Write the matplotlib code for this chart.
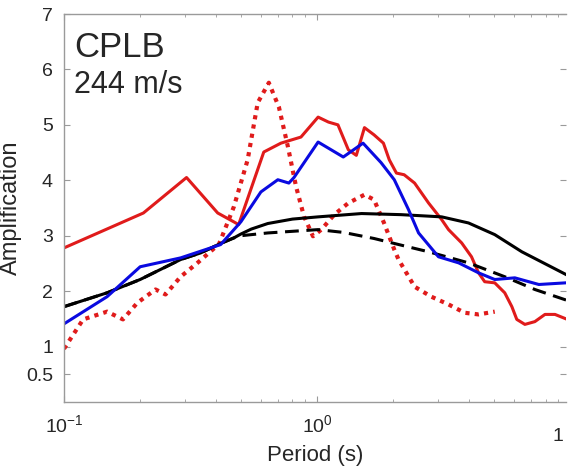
import numpy as np
import matplotlib.pyplot as plt
from matplotlib.ticker import LogLocator, NullFormatter, FixedLocator, FuncFormatter

plt.rcParams['font.family'] = ['Liberation Sans', 'DejaVu Sans']
plt.rcParams['mathtext.default'] = 'regular'

station = 'CPLB'
vs30_label = '244 m/s'

# red solid
per_red = [0.1, 0.206, 0.305, 0.405, 0.469, 0.49, 0.616, 0.72, 0.864, 1.01, 1.11, 1.21,
           1.33, 1.43, 1.54, 1.68, 1.83, 1.93, 2.06, 2.21, 2.43, 2.76, 3.11, 3.31, 3.73,
           4.08, 4.35, 4.6, 5.04, 5.52, 5.89, 6.16, 6.63, 7.26, 7.96, 8.72, 9.64]
amp_red = [2.78, 3.41, 4.05, 3.41, 3.25, 3.2, 4.51, 4.67, 4.78, 5.14, 5.05, 5.0,
           4.55, 4.45, 4.95, 4.82, 4.67, 4.37, 4.13, 4.10, 3.95, 3.59, 3.29, 3.11, 2.87,
           2.62, 2.33, 2.17, 2.15, 1.97, 1.72, 1.49, 1.40, 1.45, 1.58, 1.58, 1.50]

# red dotted
per_dot = [0.1, 0.119, 0.148, 0.171, 0.195, 0.23, 0.252, 0.289, 0.337, 0.41, 0.469,
           0.532, 0.583, 0.645, 0.707, 0.767, 0.826, 0.888, 0.964, 1.04, 1.17, 1.33,
           1.54, 1.68, 1.84, 2.02, 2.1, 2.43, 2.83, 3.31, 3.83, 4.35, 5.04]
amp_dot = [0.96, 1.49, 1.63, 1.49, 1.79, 2.03, 1.94, 2.26, 2.51, 2.85, 3.52,
           4.37, 5.4, 5.76, 5.32, 4.61, 3.89, 3.35, 2.99, 3.11, 3.38, 3.59,
           3.74, 3.65, 3.23, 2.75, 2.57, 2.08, 1.90, 1.76, 1.61, 1.58, 1.63]

# blue
per_blue = [0.1, 0.148, 0.2, 0.289, 0.416, 0.5, 0.6, 0.7, 0.774, 0.811, 1.01, 1.27,
            1.52, 1.79, 2.02, 2.3, 2.52, 3.02, 3.63, 4.35, 5.04, 6.05, 7.53, 9.64]
amp_blue = [1.41, 1.90, 2.44, 2.60, 2.84, 3.25, 3.79, 4.01, 3.95, 4.05, 4.69, 4.42,
            4.67, 4.32, 4.01, 3.47, 3.05, 2.62, 2.51, 2.33, 2.21, 2.24, 2.12, 2.15]

# black solid
per_blk = [0.1, 0.148, 0.2, 0.289, 0.347, 0.416, 0.469, 0.5, 0.55, 0.639, 0.8, 1.01,
           1.5, 2.15, 3.11, 3.97, 5.04, 6.45, 9.64]
amp_blk = [1.72, 1.97, 2.21, 2.57, 2.69, 2.86, 2.96, 3.03, 3.12, 3.22, 3.30, 3.34,
           3.40, 3.38, 3.34, 3.23, 3.02, 2.71, 2.30]

# black dashed
per_dash = [0.1, 0.148, 0.2, 0.289, 0.347, 0.416, 0.469, 0.5, 0.639, 1.01, 1.27, 1.68,
            2.15, 2.76, 3.97, 5.52, 7.26, 9.64]
amp_dash = [1.72, 1.97, 2.21, 2.57, 2.69, 2.86, 2.96, 3.0, 3.05, 3.11, 3.06, 2.95,
            2.83, 2.71, 2.51, 2.26, 2.03, 1.84]

ytick_vals = [0.5, 1, 2, 3, 4, 5, 6, 7]

txt_col = '#262626'
ax_col = '#9a9a9a'

fig = plt.figure(figsize=(5.77, 4.70), dpi=100)
ax = fig.add_axes([64/577, 68/470, 502/577, 388/470])

ax.plot(per_red, amp_red, color='#e01b1b', lw=2.2)
ax.plot(per_dot, amp_dot, color='#e01b1b', lw=3.0, dashes=(1.0, 1.25))
ax.plot(per_blk, amp_blk, color='black', lw=2.2)
ax.plot(per_dash, amp_dash, color='black', lw=2.2, dashes=(4.5, 2.5))
ax.plot(per_blue, amp_blue, color='#0a0ae0', lw=2.2)

ax.set_xscale('log')
ax.set_xlim(0.1, 9.64)
ax.set_ylim(0, 7)
ax.set_yticks(ytick_vals)
ax.set_yticklabels(['0.5', '1', '2', '3', '4', '5', '6', '7'])
ax.xaxis.set_major_locator(FixedLocator([0.1, 1]))
ax.xaxis.set_major_formatter(FuncFormatter(lambda v, p: '$10^{%d}$' % round(np.log10(v))))
ax.xaxis.set_minor_locator(LogLocator(base=10, subs=np.arange(2, 10)))
ax.xaxis.set_minor_formatter(NullFormatter())

for side in ['left', 'top', 'bottom']:
    ax.spines[side].set_color(ax_col)
    ax.spines[side].set_linewidth(1.0)
ax.spines['right'].set_visible(False)

ax.tick_params(which='both', direction='in', top=True, right=True, color=ax_col,
               labelcolor=txt_col, labelsize=14)
ax.tick_params(axis='y', which='major', length=4, pad=8)
ax.tick_params(axis='x', which='major', length=4, pad=9)
ax.tick_params(axis='x', which='minor', length=2.5)

# tick label at 10 s, only its first digit fits
ax.text(0.995, -0.088, '1', transform=ax.transAxes, ha='right', va='center',
        fontsize=14, color=txt_col)

ax.set_xlabel('Period (s)', fontsize=16, color=txt_col, labelpad=6)
ax.set_ylabel('Amplification', fontsize=17, color=txt_col, labelpad=3)

ax.text(0.02, 0.955, station, transform=ax.transAxes, ha='left', va='top',
        fontsize=25, color=txt_col)
ax.text(0.02, 0.855, vs30_label, transform=ax.transAxes, ha='left', va='top',
        fontsize=22, color=txt_col)

fig.savefig('out.png', dpi=100)
